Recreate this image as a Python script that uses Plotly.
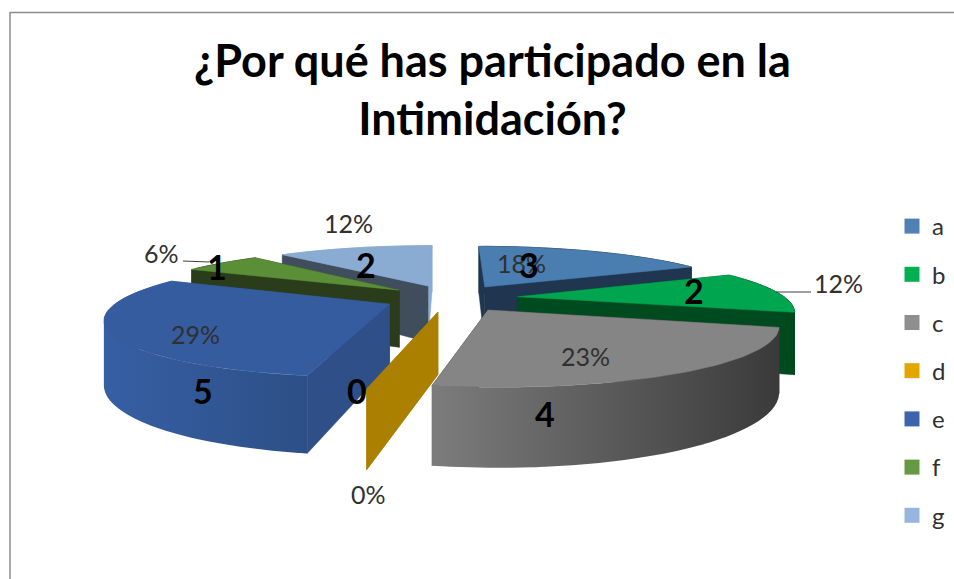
import math
import plotly.graph_objects as go

# ---- data ----
categories = ["a", "b", "c", "d", "e", "f", "g"]
values = [3, 2, 4, 0, 5, 1, 2]
percent_labels = ["18%", "12%", "23%", "0%", "29%", "6%", "12%"]
count_labels = ["3", "2", "4", "0", "5", "1", "2"]

# ---- styles ----
top_colors = ["#4a7eb0", "#00a54f", "#858585", "#e0a800", "#355c9f", "#5a8f38", "#8aabd2"]
legend_colors = ["#4f81b5", "#00b050", "#8f8f8f", "#e3a600", "#3c64aa", "#659a42", "#96b6df"]
cut_colors = ["#1f3550", "#004a20", "#3a3a3a", "#ab7f00", "#2e4f87", "#2a3c1a", "#3f4d5d"]
outer_left = ["#1f3550", "#004a20", "#7c7c7c", "#ab7f00", "#365fa4", "#2a3c1a", "#8aabd2"]
outer_right = ["#1f3550", "#004a20", "#3a3a3a", "#ab7f00", "#2d4f86", "#2a3c1a", "#8aabd2"]
draw_order = [6, 0, 5, 1, 4, 3, 2]
percent_xy = [(521, 262.5), (838, 282.5), (585, 355.5), (368, 493.5), (195, 333.5), (161, 252.5), (348, 222.5)]
count_xy = [(529, 264.5), (694, 290.5), (545, 413.5), (357, 390.5), (203, 390.5), (217, 266.5), (366, 264.5)]
leaders = [((183, 261), (209, 262)), ((776, 292), (811, 292))]

# ---- projection of the exploded pie ----
CX, CY, A, B, K, H, E = 451, 298, 268, 54, 0.22, 59, 0.25


def project(x, y, bottom=False):
    p = 1 / (1 - K * y)
    return CX + A * x * p, CY + B * y * p + (H * p if bottom else 0)


def arc_angles(a0, a1):
    n = max(2, int((a1 - a0) / 1.5) + 2)
    return [a0 + (a1 - a0) * i / (n - 1) for i in range(n)]


fig = go.Figure()


def add_fill(xs, ys, color=None, grad=None):
    kw = dict(x=xs, y=ys, mode="lines", line=dict(width=0.5, color=color or grad[0]), fill="toself",
              hoverinfo="skip", showlegend=False)
    if grad:
        kw["fillgradient"] = dict(type="horizontal", colorscale=[[0, grad[0]], [1, grad[1]]])
        kw["line"]["width"] = 0
    else:
        kw["fillcolor"] = color
    fig.add_trace(go.Scatter(**kw))


def poly(points, color=None, grad=None):
    add_fill([p[0] for p in points] + [points[0][0]], [p[1] for p in points] + [points[0][1]], color, grad)


def signed_area(q):
    return sum(q[n][0] * q[(n + 1) % len(q)][1] - q[(n + 1) % len(q)][0] * q[n][1] for n in range(len(q)))


total = sum(values)
starts = []
acc = 0
for v in values:
    starts.append(acc / total * 360)
    acc += v

for i in draw_order:
    a0 = starts[i]
    a1 = a0 + values[i] / total * 360
    mid = math.radians((a0 + a1) / 2)
    ox, oy = E * math.sin(mid), -E * math.cos(mid)

    def pt(deg, bottom=False):
        r = math.radians(deg)
        return project(ox + math.sin(r), oy - math.cos(r), bottom)

    apex_t, apex_b = project(ox, oy), project(ox, oy, True)

    def wall(deg):
        return [apex_t, pt(deg), pt(deg, True), apex_b]

    def outer(d0, d1, front):
        if d1 <= d0:
            return
        ang = arc_angles(d0, d1)
        xs, ys = [], []
        # overlapping quads of one winding, so the rim keeps its silhouette where it turns back
        for j in range(len(ang) - 1):
            k = min(j + 2, len(ang) - 1)
            q = [pt(ang[j]), pt(ang[k]), pt(ang[k], True), pt(ang[j], True)]
            if signed_area(q) < 0:
                q.reverse()
            q.append(q[0])
            xs += [p[0] for p in q] + [None]
            ys += [p[1] for p in q] + [None]
        if front and outer_left[i] != outer_right[i]:
            add_fill(xs[:-1], ys[:-1], grad=(outer_left[i], outer_right[i]))
        else:
            add_fill(xs[:-1], ys[:-1], color=outer_left[i])

    # back-facing rim first, then the two cut faces, then front rim and the top
    outer(a0, min(a1, 90), False)
    outer(max(a0, 270), a1, False)
    poly(wall(a1), color=outer_left[i] if i == 6 else cut_colors[i])
    poly(wall(a0), color=cut_colors[i])
    outer(max(a0, 90), min(a1, 270), True)
    if values[i] > 0:
        poly([apex_t] + [pt(d) for d in arc_angles(a0, a1)], color=top_colors[i])

# leader lines
for (p, q) in leaders:
    fig.add_trace(go.Scatter(x=[p[0], q[0]], y=[p[1], q[1]], mode="lines", line=dict(color="#404040", width=1),
                             hoverinfo="skip", showlegend=False))

# legend entries
for c, col in zip(categories, legend_colors):
    fig.add_trace(go.Scatter(x=[None], y=[None], mode="markers", name=c, legendgroup=c,
                             marker=dict(symbol="square", size=15, color=col)))

font = "Lato, 'Open Sans', sans-serif"
annotations = []
for t, (x, y) in zip(percent_labels, percent_xy):
    annotations.append(dict(x=x, y=y, text=t, showarrow=False, xref="x", yref="y",
                            font=dict(family=font, size=25, color="#303030")))
for t, (x, y) in zip(count_labels, count_xy):
    annotations.append(dict(x=x, y=y, text="<b>%s</b>" % t, showarrow=False, xref="x", yref="y",
                            font=dict(family=font, size=34, color="#000000")))

fig.update_layout(
    width=954, height=579,
    margin=dict(l=0, r=0, t=0, b=0, autoexpand=False),
    paper_bgcolor="#ffffff", plot_bgcolor="#ffffff",
    title=dict(text="<b>¿Por qué has participado en la<br>Intimidación?</b>",
               x=492.5 / 954, xanchor="center", y=1 - 76.5 / 579, yanchor="top",
               font=dict(family=font, size=45, color="#000000")),
    xaxis=dict(range=[0, 954], visible=False, fixedrange=True),
    yaxis=dict(range=[579, 0], visible=False, fixedrange=True),
    legend=dict(x=892 / 954, xanchor="left", y=1 - 204 / 579, yanchor="top", tracegroupgap=14,
                font=dict(family=font, size=24, color="#303030"), bgcolor="rgba(0,0,0,0)", itemclick=False),
    annotations=annotations,
    shapes=[
        dict(type="line", xref="x", yref="y", x0=10, x1=954, y0=12.5, y1=12.5, line=dict(color="#8c8c8c", width=1.5)),
        dict(type="line", xref="x", yref="y", x0=10, x1=10, y0=12, y1=579, line=dict(color="#8c8c8c", width=1.5)),
    ],
)

fig.write_html("out.html", config={"displayModeBar": False},
               post_script="document.body.style.margin='0';document.body.style.overflow='hidden';")
